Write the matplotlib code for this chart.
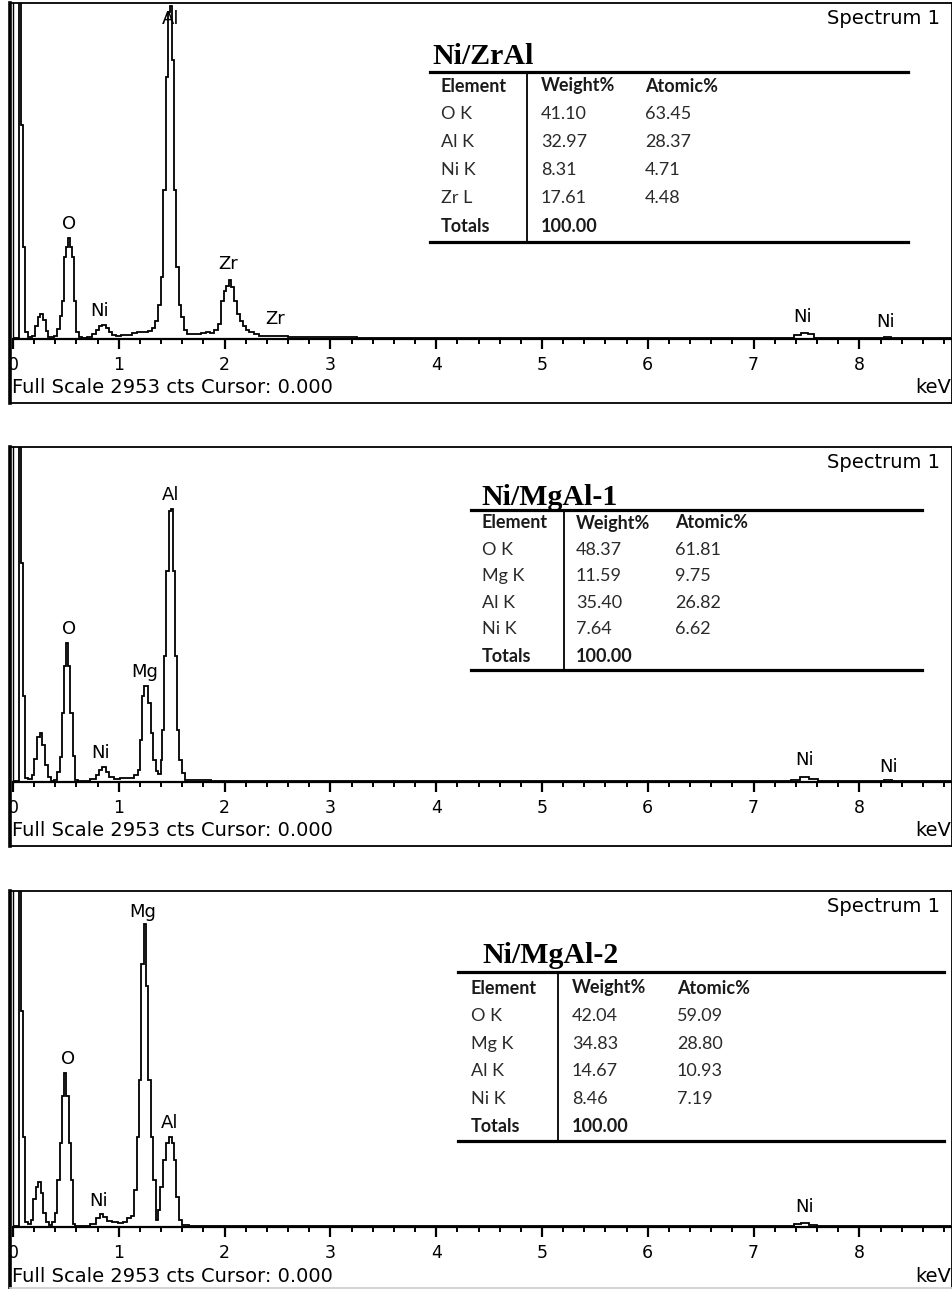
import matplotlib
matplotlib.use("Agg")
import matplotlib.pyplot as plt
from matplotlib.lines import Line2D
from matplotlib.ticker import MultipleLocator, FixedLocator

# ---------------- data ----------------
FULL_SCALE = 2953

# Ni/ZrAl spectrum (keV, counts)
energy1 = [0.00, 0.04, 0.065, 0.085, 0.105, 0.13, 0.16, 0.19, 0.22, 0.245, 0.27, 0.295, 0.32, 0.345,
           0.37, 0.40, 0.43, 0.455, 0.475, 0.49, 0.51, 0.53, 0.55, 0.57, 0.59, 0.61, 0.63, 0.67,
           0.72, 0.77, 0.80, 0.83, 0.86, 0.89, 0.92, 0.95, 1.00, 1.05, 1.10, 1.15, 1.20, 1.25,
           1.30, 1.33, 1.36, 1.39, 1.41, 1.43, 1.455, 1.475, 1.495, 1.515, 1.535, 1.555, 1.575,
           1.60, 1.625, 1.66, 1.70, 1.75, 1.80, 1.84, 1.88, 1.92, 1.95, 1.98, 2.00, 2.03, 2.05,
           2.075, 2.10, 2.13, 2.16, 2.19, 2.22, 2.25, 2.30, 2.35, 2.45, 2.55, 2.65, 2.80, 3.00,
           3.50, 4.00, 5.00, 6.00, 7.00, 7.35, 7.42, 7.48, 7.54, 7.60, 7.70, 8.20, 8.27, 8.33, 8.90]
counts1 = [5, 5, 5000, 1880, 808, 60, 20, 30, 110, 190, 220, 170, 70, 20,
           15, 30, 90, 200, 338, 720, 808, 890, 808, 720, 338, 60, 15, 12,
           20, 40, 80, 110, 126, 100, 60, 35, 30, 32, 35, 55, 60, 62,
           70, 95, 160, 300, 544, 1310, 2300, 2870, 2925, 2455, 1310, 630, 300,
           190, 75, 44, 40, 42, 55, 60, 50, 80, 130, 338, 420, 470, 515,
           460, 338, 220, 160, 118, 80, 59, 40, 30, 25, 28, 20, 18, 15,
           12, 10, 8, 8, 8, 10, 35, 55, 40, 12, 10, 8, 20, 8, 8]

# Ni/MgAl-1 spectrum
energy2 = [0.00, 0.04, 0.065, 0.085, 0.105, 0.13, 0.16, 0.19, 0.215, 0.24, 0.265, 0.29, 0.315, 0.34,
           0.37, 0.40, 0.43, 0.45, 0.47, 0.49, 0.51, 0.53, 0.555, 0.575, 0.60, 0.63, 0.70, 0.76,
           0.80, 0.83, 0.86, 0.89, 0.93, 0.98, 1.05, 1.12, 1.17, 1.19, 1.21, 1.23, 1.25, 1.27,
           1.29, 1.31, 1.335, 1.36, 1.385, 1.405, 1.42, 1.44, 1.46, 1.48, 1.50, 1.52, 1.54,
           1.56, 1.585, 1.61, 1.65, 1.75, 2.00, 2.50, 3.00, 4.00, 5.00, 6.00, 7.30, 7.40, 7.48,
           7.56, 7.65, 8.20, 8.27, 8.34, 8.90]
counts2 = [5, 5, 5000, 1930, 755, 35, 30, 60, 200, 400, 432, 330, 150, 40,
           6, 20, 90, 220, 610, 1020, 1226, 1020, 610, 226, 20, 6, 8, 30,
           60, 110, 132, 90, 40, 30, 35, 35, 60, 108, 373, 755, 843, 843,
           697, 432, 197, 94, 70, 197, 461, 1108, 1858, 2387, 2410, 1858, 1108,
           461, 197, 79, 20, 15, 12, 10, 8, 8, 8, 8, 8, 20, 45,
           25, 10, 8, 14, 8, 8]

# Ni/MgAl-2 spectrum
energy3 = [0.00, 0.04, 0.065, 0.085, 0.105, 0.13, 0.155, 0.18, 0.205, 0.225, 0.25, 0.275, 0.30,
           0.325, 0.35, 0.38, 0.41, 0.43, 0.455, 0.475, 0.495, 0.515, 0.535, 0.555, 0.575, 0.60,
           0.70, 0.76, 0.80, 0.84, 0.87, 0.91, 0.96, 1.02, 1.06, 1.10, 1.13, 1.155, 1.18, 1.20,
           1.225, 1.248, 1.267, 1.29, 1.31, 1.335, 1.36, 1.383, 1.405, 1.43, 1.46, 1.487, 1.51,
           1.53, 1.555, 1.58, 1.62, 1.70, 2.00, 3.00, 4.00, 5.00, 6.00, 7.35, 7.42, 7.48, 7.56,
           7.63, 8.90]
counts3 = [5, 5, 5000, 1896, 794, 45, 30, 60, 250, 350, 397, 300, 120,
           40, 15, 40, 120, 412, 735, 1147, 1352, 1147, 735, 412, 30, 10,
           12, 30, 80, 118, 90, 50, 40, 35, 45, 80, 100, 323, 794, 1294,
           2308, 2661, 2117, 1294, 794, 412, 59, 147, 353, 588, 735, 794, 735,
           588, 265, 59, 15, 12, 10, 8, 8, 8, 8, 10, 25, 32, 20,
           8, 8]

# peak labels (text, keV, counts)
peak_names1 = ["Al", "O", "Ni", "Zr", "Zr", "Ni", "Ni"]
peak_e1 = [1.49, 0.53, 0.82, 2.03, 2.48, 7.46, 8.25]
peak_c1 = [2813, 1011, 246, 659, 176, 193, 149]

peak_names2 = ["Al", "O", "Mg", "Ni", "Ni", "Ni"]
peak_e2 = [1.49, 0.53, 1.24, 0.83, 7.48, 8.28]
peak_c2 = [2532, 1345, 967, 255, 193, 132]

peak_names3 = ["Mg", "O", "Al", "Ni", "Ni"]
peak_e3 = [1.23, 0.52, 1.48, 0.81, 7.48]
peak_c3 = [2769, 1477, 914, 229, 176]

# composition tables
titles = ["Ni/ZrAl", "Ni/MgAl-1", "Ni/MgAl-2"]
elements1 = ["O K", "Al K", "Ni K", "Zr L"]
weight1 = [41.10, 32.97, 8.31, 17.61]
atomic1 = [63.45, 28.37, 4.71, 4.48]
elements2 = ["O K", "Mg K", "Al K", "Ni K"]
weight2 = [48.37, 11.59, 35.40, 7.64]
atomic2 = [61.81, 9.75, 26.82, 6.62]
elements3 = ["O K", "Mg K", "Al K", "Ni K"]
weight3 = [42.04, 34.83, 14.67, 8.46]
atomic3 = [59.09, 28.80, 10.93, 7.19]
total_weight = 100.00

x_ticks = [0, 1, 2, 3, 4, 5, 6, 7, 8]

# ---------------- layout ----------------
W, H = 953, 1289
fig = plt.figure(figsize=(W / 100, H / 100), dpi=100)
fig.patch.set_facecolor("white")

def fx(x):
    return x / W

def fy(y):
    return 1 - y / H

PX_PER_KEV = 105.8
X0, X1 = 13, 951
SANS = ["DejaVu Sans"]

panels = [
    dict(top=3, base=339, bottom=403,
         tbl=dict(tx=432, ty=64, lx0=430, lx1=908, ltop=72, lbot=242, vx=527,
                  cols=[441, 541, 645], hy=86, dy=28.0)),
    dict(top=447, base=782, bottom=846,
         tbl=dict(tx=481, ty=505, lx0=471, lx1=922, ltop=510, lbot=670, vx=564,
                  cols=[482, 576, 675], hy=523, dy=26.6)),
    dict(top=891, base=1227, bottom=1288,
         tbl=dict(tx=482, ty=963, lx0=458, lx1=944, ltop=972, lbot=1141, vx=558,
                  cols=[471, 572, 677], hy=988, dy=27.8)),
]

spectra = [(energy1, counts1), (energy2, counts2), (energy3, counts3)]
peaks = [(peak_names1, peak_e1, peak_c1), (peak_names2, peak_e2, peak_c2),
         (peak_names3, peak_e3, peak_c3)]
tables = [(elements1, weight1, atomic1), (elements2, weight2, atomic2),
          (elements3, weight3, atomic3)]

for i, p in enumerate(panels):
    top, base, bottom = p["top"], p["base"], p["bottom"]
    # outer frame
    fr = fig.add_axes([fx(10), fy(bottom), (952 - 10) / W, (bottom - top) / H])
    fr.set_xlim(0, 1)
    fr.set_ylim(0, 1)
    fr.set_xticks([])
    fr.set_yticks([])
    for s in fr.spines.values():
        s.set_linewidth(1.3)
        s.set_color("black")
    fr.spines["left"].set_linewidth(2.6)
    if i == 2:
        fr.spines["bottom"].set_color("#d0d0d0")
    fr.set_zorder(0)

    # data axes
    ax = fig.add_axes([fx(X0), fy(base), (X1 - X0) / W, (base - top) / H])
    ax.set_zorder(1)
    ax.patch.set_alpha(0)
    e, c = spectra[i]
    ax.plot(e, c, color="black", lw=1.3, drawstyle="steps-mid", solid_joinstyle="miter")
    ax.set_xlim(0, (X1 - X0) / PX_PER_KEV)
    ax.set_ylim(0, FULL_SCALE)
    ax.spines["top"].set_visible(False)
    ax.spines["right"].set_visible(False)
    ax.spines["left"].set_linewidth(1.0)
    ax.spines["bottom"].set_linewidth(1.6)
    ax.set_yticks([])
    ax.xaxis.set_major_locator(FixedLocator(x_ticks))
    ax.xaxis.set_minor_locator(MultipleLocator(0.2))
    ax.set_xticklabels([str(t) for t in x_ticks])
    ax.tick_params(axis="x", which="major", direction="out", length=7, width=1.6,
                   pad=5, labelsize=12.5)
    ax.tick_params(axis="x", which="minor", direction="out", length=3.5, width=1.4)
    for lab in ax.get_xticklabels():
        lab.set_family(SANS)
    ax.xaxis.get_major_ticks()[0].label1.set_clip_on(True)
    ax.xaxis.get_major_ticks()[0].label1.set_clip_box(fr.bbox)

    names, pe, pc = peaks[i]
    for n, xe, yc in zip(names, pe, pc):
        ax.text(xe, yc, n, ha="center", va="center", fontsize=13, family=SANS,
                color="black", zorder=3)

    # instrument texts
    fig.text(fx(12), fy(base + 49), "Full Scale 2953 cts Cursor: 0.000", ha="left",
             va="center", fontsize=14, family=SANS)
    fig.text(fx(951), fy(base + 49), "keV", ha="right", va="center", fontsize=14,
             family=SANS)
    fig.text(fx(940), fy(top + 15), "Spectrum 1", ha="right", va="center", fontsize=14,
             family=SANS)

    # composition table
    t = p["tbl"]
    els, wts, ats = tables[i]
    fig.text(fx(t["tx"]), fy(t["ty"]), titles[i], ha="left", va="baseline",
             fontsize=21.5, family="Liberation Serif", fontweight="bold")
    for yy in (t["ltop"], t["lbot"]):
        fig.add_artist(Line2D([fx(t["lx0"]), fx(t["lx1"])], [fy(yy), fy(yy)],
                              color="black", lw=2.3, transform=fig.transFigure))
    fig.add_artist(Line2D([fx(t["vx"]), fx(t["vx"])], [fy(t["ltop"]), fy(t["lbot"])],
                          color="black", lw=1.3, transform=fig.transFigure))
    cx = t["cols"]
    header = ["Element", "Weight%", "Atomic%"]
    for k, h in enumerate(header):
        fig.text(fx(cx[k]), fy(t["hy"]), h, ha="left", va="center", fontsize=13,
                 family="Lato", fontweight="bold", color="#1a1a1a")
    for r, (el, wv, av) in enumerate(zip(els, wts, ats)):
        yy = t["hy"] + (r + 1) * t["dy"]
        for k, s in enumerate([el, f"{wv:.2f}", f"{av:.2f}"]):
            fig.text(fx(cx[k]), fy(yy), s, ha="left", va="center", fontsize=13,
                     family="Lato", color="#2a2a2a")
    yy = t["hy"] + (len(els) + 1) * t["dy"]
    fig.text(fx(cx[0]), fy(yy), "Totals", ha="left", va="center", fontsize=13,
             family="Lato", fontweight="bold", color="#1a1a1a")
    fig.text(fx(cx[1]), fy(yy), f"{total_weight:.2f}", ha="left", va="center",
             fontsize=13, family="Lato", fontweight="bold", color="#1a1a1a")

fig.savefig("out.png", dpi=100, facecolor="white")
